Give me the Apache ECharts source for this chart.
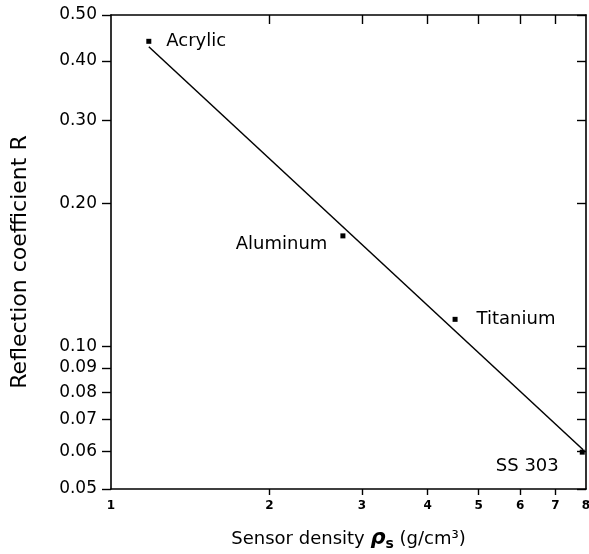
<!DOCTYPE html>
<html>
<head>
<meta charset="utf-8">
<script src="https://cdn.jsdelivr.net/npm/echarts@6/dist/echarts.min.js"></script>
<style>
html,body{margin:0;padding:0;background:#fff;}
#chart{width:589px;height:554px;}
</style>
</head>
<body>
<div id="chart"></div>
<script>
// ---- data ----
const materials = ['Acrylic', 'Aluminum', 'Titanium', 'SS 303'];
const density = [1.18, 2.76, 4.51, 7.87];          // g/cm^3
const reflection = [0.44, 0.171, 0.114, 0.0598];   // R
const fitX = [1.18, 7.90];
const fitY = [0.4285, 0.0605];
const yTicks = [0.05, 0.06, 0.07, 0.08, 0.09, 0.10, 0.20, 0.30, 0.40, 0.50];
const xTicks = [1, 2, 3, 4, 5, 6, 7, 8];
const xInnerTicks = [2, 3, 4, 5, 6, 7];

// label placement (style only)
const labelPlace = [
  {position: 'right', distance: 15, offset: [0, 0]},
  {position: 'left', distance: 13, offset: [0, 8]},
  {position: 'right', distance: 19, offset: [0, 0]},
  {position: 'left', distance: 21, offset: [0, 14]}
];

const FONT = 'DejaVu Sans';
const chart = echarts.init(document.getElementById('chart'), null, {renderer: 'canvas'});

const scatterData = materials.map((m, i) => ({
  value: [density[i], reflection[i]],
  name: m,
  label: {show: true, formatter: m, position: labelPlace[i].position,
          distance: labelPlace[i].distance, offset: labelPlace[i].offset}
}));
const lineData = fitX.map((x, i) => [x, fitY[i]]);

const axisLine = {show: true, lineStyle: {color: '#000', width: 1.6}};

chart.setOption({
  animation: false,
  backgroundColor: '#fff',
  grid: {left: 111, right: 3, top: 15, bottom: 65, containLabel: false, outerBoundsMode: 'none'},
  xAxis: [
    {
      type: 'log', logBase: 10, min: 1, max: 8, position: 'bottom',
      axisLine: axisLine,
      splitLine: {show: false},
      minorTick: {show: false},
      axisTick: {show: true, inside: false, length: 6, customValues: xInnerTicks,
                 lineStyle: {color: '#000', width: 1.4}},
      axisLabel: {customValues: xTicks, color: '#000', fontFamily: FONT, fontSize: 12,
                  fontWeight: 'bold', margin: 11, formatter: v => String(Math.round(v))},
      name: '{a|Sensor density }{rho|ρ}{sub|s}{a| (g/cm³)}',
      nameLocation: 'middle', nameGap: 38,
      nameTextStyle: {
        rich: {
          a: {fontFamily: FONT, fontSize: 18, color: '#000'},
          rho: {fontFamily: FONT, fontSize: 21, fontStyle: 'italic', fontWeight: 'bold', color: '#000'},
          sub: {fontFamily: FONT, fontSize: 14, fontWeight: 'bold', color: '#000', verticalAlign: 'bottom', padding: [10, 0, 0, 0]}
        }
      }
    },
    {
      type: 'log', logBase: 10, min: 1, max: 8, position: 'top',
      axisLine: axisLine,
      splitLine: {show: false},
      axisTick: {show: true, inside: true, length: 9, customValues: xInnerTicks,
                 lineStyle: {color: '#000', width: 1.4}},
      axisLabel: {show: false}
    }
  ],
  yAxis: [
    {
      type: 'log', logBase: 10, min: 0.05, max: 0.5, position: 'left',
      axisLine: axisLine,
      splitLine: {show: false},
      axisTick: {show: true, inside: false, length: 9, customValues: yTicks,
                 lineStyle: {color: '#000', width: 1.4}},
      axisLabel: {customValues: yTicks, color: '#000', fontFamily: FONT, fontSize: 17, margin: 14,
                  formatter: v => Number(v).toFixed(2)},
      name: 'Reflection coefficient R',
      nameLocation: 'middle', nameGap: 80, nameRotate: 90,
      nameTextStyle: {fontFamily: FONT, fontSize: 22, color: '#000', padding: [0, 20, 0, 0]},
      nameMoveOverlap: false
    },
    {
      type: 'log', logBase: 10, min: 0.05, max: 0.5, position: 'right',
      axisLine: axisLine,
      splitLine: {show: false},
      axisTick: {show: true, inside: true, length: 9, customValues: yTicks,
                 lineStyle: {color: '#000', width: 1.4}},
      axisLabel: {show: false}
    }
  ],
  series: [
    {
      type: 'line', data: lineData, xAxisIndex: 0, yAxisIndex: 0,
      showSymbol: false, symbol: 'none',
      lineStyle: {color: '#000', width: 1.5}
    },
    {
      type: 'scatter', data: scatterData, xAxisIndex: 0, yAxisIndex: 0,
      symbol: 'rect', symbolSize: 5,
      itemStyle: {color: '#000', opacity: 1},
      label: {show: true, color: '#000', fontFamily: FONT, fontSize: 18}
    }
  ]
});
</script>
</body>
</html>
